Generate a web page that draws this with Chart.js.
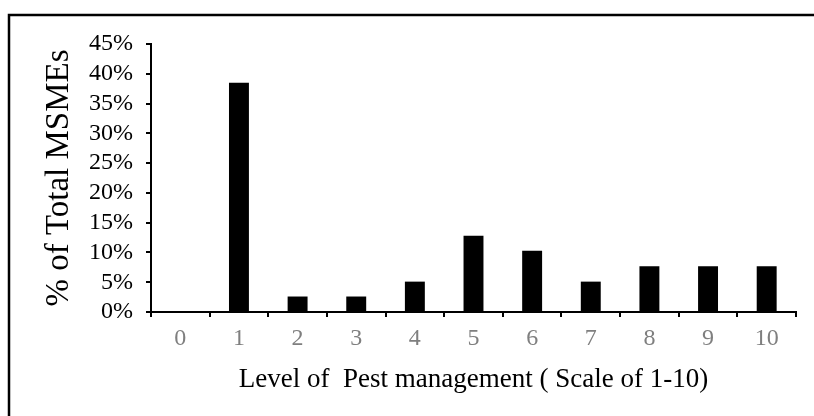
<!DOCTYPE html>
<html>
<head>
<meta charset="utf-8">
<script src="https://cdn.jsdelivr.net/npm/chart.js@4"></script>
<style>
  body { margin: 0; background: #fff; }
  canvas { display: block; }
</style>
</head>
<body>
<canvas id="barChart" width="814" height="416"></canvas>
<script>
// level on the 1-10 scale, and share of MSMEs in percent
var levels = ['0', '1', '2', '3', '4', '5', '6', '7', '8', '9', '10'];
var shares = [0, 38.5, 2.6, 2.6, 5.1, 12.8, 10.3, 5.1, 7.7, 7.7, 7.7];
var yTicks = [0, 5, 10, 15, 20, 25, 30, 35, 40, 45];

var serif = 'Liberation Serif';

// white page plus the frame that runs off the right and bottom edges
var framePlugin = {
    id: 'frame',
    beforeDraw: function (chart) {
        var c = chart.ctx;
        c.save();
        c.fillStyle = '#fff';
        c.fillRect(0, 0, chart.width, chart.height);
        c.restore();
    },
    afterDraw: function (chart) {
        var c = chart.ctx;
        c.save();
        c.strokeStyle = '#000';
        c.lineWidth = 2.5;
        c.strokeRect(9, 15, 900, 600);
        c.restore();
    }
};

var ctx = document.getElementById('barChart');
var myChart = new Chart(ctx, {
    type: 'bar',
    data: {
        labels: levels,
        datasets: [{
            data: shares,
            backgroundColor: '#000',
            borderWidth: 0,
            barPercentage: 0.34,
            categoryPercentage: 1
        }]
    },
    options: {
        responsive: false,
        animation: false,
        layout: { padding: { top: 44, right: 18, left: 40, bottom: 0 } },
        plugins: {
            legend: { display: false },
            tooltip: { enabled: false }
        },
        scales: {
            x: {
                offset: true,
                grid: {
                    offset: true,
                    drawOnChartArea: false,
                    drawTicks: true,
                    tickLength: 5,
                    color: '#000',
                    lineWidth: 2
                },
                border: { color: '#000', width: 2 },
                ticks: {
                    color: '#7f7f7f',
                    padding: 7,
                    font: { family: serif, size: 24 }
                },
                title: {
                    display: true,
                    text: 'Level of  Pest management ( Scale of 1-10)',
                    color: '#000',
                    padding: { top: 0, bottom: 20 },
                    font: { family: serif, size: 27 }
                },
                afterFit: function (scale) { scale.height = 104; }
            },
            y: {
                min: 0,
                max: 45,
                afterBuildTicks: function (scale) {
                    scale.ticks = yTicks.map(function (v) { return { value: v }; });
                },
                grid: {
                    drawOnChartArea: false,
                    drawTicks: true,
                    tickLength: 5,
                    color: '#000',
                    lineWidth: 2
                },
                border: { color: '#000', width: 2 },
                ticks: {
                    color: '#000',
                    padding: 13,
                    autoSkip: false,
                    font: { family: serif, size: 24 },
                    callback: function (v) { return v + '%'; }
                },
                title: {
                    display: true,
                    text: '% of Total MSMEs',
                    color: '#000',
                    padding: 0,
                    font: { family: serif, size: 33 }
                },
                afterFit: function (scale) { scale.width = 111; }
            }
        }
    },
    plugins: [framePlugin]
});
</script>
</body>
</html>
